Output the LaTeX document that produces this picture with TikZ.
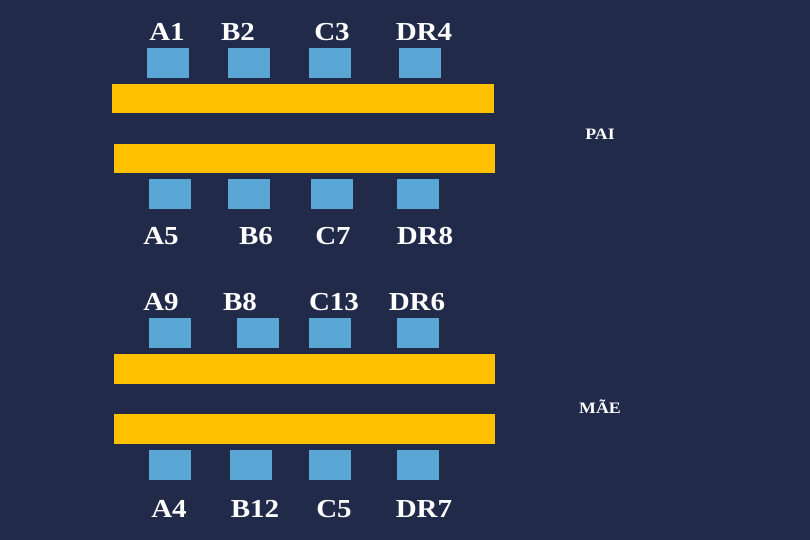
\documentclass[tikz,border=0pt]{standalone}
\usepackage{fontspec}
\setmainfont{Liberation Serif}
\definecolor{bg}{HTML}{222A4A}
\definecolor{pad}{HTML}{5AA6D4}
\definecolor{bar}{HTML}{FFC000}
\newcommand{\wlab}[1]{\scalebox{1.12}[1]{#1}}
\begin{document}
\begin{tikzpicture}[x=1bp,y=-1bp,
  sq/.style={fill=pad,draw=none,minimum width=42bp,minimum height=30bp,inner sep=0pt},
  barbox/.style={fill=bar,draw=none,minimum width=381bp,minimum height=29.5bp,inner sep=0pt},
  lab/.style={text=white,font=\fontsize{26}{28}\selectfont\bfseries,anchor=base,inner sep=0pt},
  small/.style={text=white,font=\fontsize{16}{18}\selectfont\bfseries,anchor=base,inner sep=0pt}]
\fill[bg] (0,0) rectangle (810,540);
\useasboundingbox (0,0) rectangle (810,540);
% PAI
\node[lab] (l1) at (167,41) {\wlab{A1}};
\node[lab] (l2) at (238,41) {\wlab{B2}};
\node[lab] (l3) at (332,41) {\wlab{C3}};
\node[lab] (l4) at (424,41) {\wlab{DR4}};
\node[sq] (s1) at (168,63) {};
\node[sq] (s2) at (249,63) {};
\node[sq] (s3) at (330,63) {};
\node[sq] (s4) at (419.5,63) {};
\node[barbox] (b1) at (303,98.5) {};
\node[barbox] (b2) at (304.5,158.5) {};
\node[small] (pai) at (600,140) {\wlab{PAI}};
\node[sq] (s5) at (169.5,194.5) {};
\node[sq] (s6) at (249,194.5) {};
\node[sq] (s7) at (331.5,194.5) {};
\node[sq] (s8) at (417.5,194.5) {};
\node[lab] (l5) at (161,245) {\wlab{A5}};
\node[lab] (l6) at (256,245) {\wlab{B6}};
\node[lab] (l7) at (333,245) {\wlab{C7}};
\node[lab] (l8) at (425,245) {\wlab{DR8}};
% MAE
\node[lab] (l9) at (161,311) {\wlab{A9}};
\node[lab] (l10) at (240,311) {\wlab{B8}};
\node[lab] (l11) at (334,311) {\wlab{C13}};
\node[lab] (l12) at (417,311) {\wlab{DR6}};
\node[sq] (s9) at (169.5,333) {};
\node[sq] (s10) at (257.5,333) {};
\node[sq] (s11) at (330,333) {};
\node[sq] (s12) at (417.5,333) {};
\node[barbox] (b3) at (304.5,369) {};
\node[barbox] (b4) at (304.5,429) {};
\node[small] (mae) at (600,413) {\wlab{MÃE}};
\node[sq] (s13) at (169.5,465) {};
\node[sq] (s14) at (250.5,465) {};
\node[sq] (s15) at (330,465) {};
\node[sq] (s16) at (417.5,465) {};
\node[lab] (l13) at (169,517) {\wlab{A4}};
\node[lab] (l14) at (255,517) {\wlab{B12}};
\node[lab] (l15) at (334,517) {\wlab{C5}};
\node[lab] (l16) at (424,517) {\wlab{DR7}};
\end{tikzpicture}
\end{document}
